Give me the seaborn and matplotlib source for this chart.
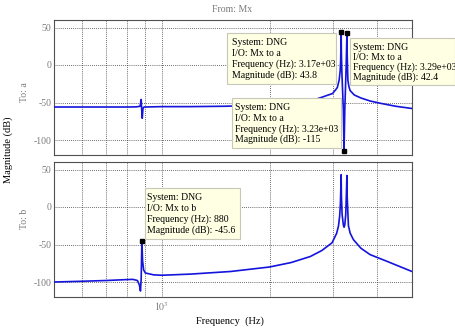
import numpy as np
import pandas as pd
import matplotlib
matplotlib.use("Agg")
import matplotlib.pyplot as plt
import seaborn as sns
from matplotlib.patches import Rectangle
from matplotlib.ticker import FixedLocator, NullFormatter, FixedFormatter

# ---- data ----
freq_a = [500, 600, 700, 800, 850, 870, 876, 879, 882, 886, 892, 900, 1000, 1200,
          1500, 1800, 2000, 2300, 2600, 2800, 3000, 3060, 3093, 3130, 3150, 3160,
          3166, 3170, 3175, 3185, 3200, 3215, 3230, 3245, 3260, 3272, 3282, 3290,
          3295, 3310, 3330, 3357, 3450, 3600, 3819, 4075, 4500, 5000]
mag_a = [-56, -56, -56, -56, -55.8, -55, -46, -60, -71, -58, -56, -56, -55.5, -55.5,
         -55, -54, -53, -51, -48, -43, -38, -33, -30, -20, -8, 5,
         25, 43.8, 15, -10, -35, -60, -115, -60, -30, -5, 20, 42.4,
         15, -20, -28, -34, -40, -44, -48, -51, -55, -58]

freq_b = [500, 600, 700, 780, 830, 855, 866, 872, 876, 880, 884, 890, 900, 950,
          1000, 1200, 1556, 2000, 2300, 2600, 2800, 2990, 3080, 3117, 3140, 3155,
          3165, 3170, 3175, 3190, 3215, 3230, 3245, 3265, 3280, 3290, 3295, 3305,
          3322, 3360, 3430, 3600, 3819, 4260, 4600, 5000]
mag_b = [-100, -99, -98, -97, -96.5, -98, -104, -112, -95, -45.6, -72, -84, -88, -90.5,
         -91, -89.5, -86, -80, -74, -66, -58, -47.7, -35, -25, -12, 5,
         28, 43, 15, -10, -24, -27, -24, -10, 20, 42, 15, 0,
         -25, -35, -43.5, -55, -63.5, -72.5, -79, -86]

tip_freq_a = [3170, 3290, 3230]
tip_mag_a = [43.8, 42.4, -115]
tip_freq_b = [880]
tip_mag_b = [-45.6]

tips_text = [
    ["System: DNG", "I/O: Mx to a", "Frequency (Hz): 3.17e+03", "Magnitude (dB): 43.8"],
    ["System: DNG", "I/O: Mx to a", "Frequency (Hz): 3.29e+03", "Magnitude (dB): 42.4"],
    ["System: DNG", "I/O: Mx to a", "Frequency (Hz): 3.23e+03", "Magnitude (dB): -115"],
    ["System: DNG", "I/O: Mx to b", "Frequency (Hz): 880", "Magnitude (dB): -45.6"],
]

y_ticks = [-100, -50, 0, 50]
x_minor = [600, 700, 800, 900, 2000, 3000, 4000]

# ---- style ----
sns.set_style("white")
plt.rcParams['font.family'] = ['Liberation Serif', 'DejaVu Serif']
plt.rcParams['mathtext.fontset'] = 'stix'
plt.rcParams['axes.unicode_minus'] = False

W, H = 456, 328
fig = plt.figure(figsize=(W / 100, H / 100), dpi=100)

def fx(px):
    return px / W

def fy(py):
    return 1 - py / H

ax1 = fig.add_axes([fx(54), fy(155), fx(412) - fx(54), fy(20) - fy(155)])
ax2 = fig.add_axes([fx(54), fy(297), fx(412) - fx(54), fy(162) - fy(297)])

line_color = '#1414dc'
tick_color = '#7a7a7a'
grid_kw = dict(color='#3c3c3c', linestyle=(0, (1, 1.5)), linewidth=0.6)

df_a = pd.DataFrame({'freq': freq_a, 'mag': mag_a})
df_b = pd.DataFrame({'freq': freq_b, 'mag': mag_b})

sns.lineplot(data=df_a, x='freq', y='mag', ax=ax1, color=line_color, linewidth=1.2,
             estimator=None, zorder=3)
sns.lineplot(data=df_b, x='freq', y='mag', ax=ax2, color=line_color, linewidth=1.2,
             estimator=None, zorder=3)

ax1.plot(tip_freq_a, tip_mag_a, 's', color='black', markersize=3.5, zorder=5, clip_on=False)
ax2.plot(tip_freq_b, tip_mag_b, 's', color='black', markersize=3.5, zorder=5, clip_on=False)

for ax in (ax1, ax2):
    ax.set_xscale('log')
    ax.set_xlim(500, 5000)
    ax.set_ylim(-120, 60)
    ax.set_yticks(y_ticks)
    ax.set_yticklabels([str(v) for v in y_ticks])
    ax.xaxis.set_major_locator(FixedLocator([1000]))
    ax.xaxis.set_minor_locator(FixedLocator(x_minor))
    ax.xaxis.set_minor_formatter(NullFormatter())
    ax.grid(True, which='both', axis='x', **grid_kw)
    ax.grid(True, which='major', axis='y', **grid_kw)
    ax.set_xlabel('')
    ax.set_ylabel('')
    ax.tick_params(axis='both', which='both', direction='in', length=3,
                   colors='#505050', labelcolor=tick_color, labelsize=7, width=0.6, pad=2)
    for s in ax.spines.values():
        s.set_color('#505050')
        s.set_linewidth(0.8)
        s.set_visible(True)
    ax.set_axisbelow(True)

ax1.xaxis.set_major_formatter(NullFormatter())
ax2.xaxis.set_major_formatter(FixedFormatter(['$10^3$']))

# labels
fig.text(fx(232), fy(9.5), 'From: Mx', ha='center', va='center', fontsize=7, color=tick_color)
fig.text(fx(25), fy(92), 'To: a', ha='center', va='center', rotation=90, fontsize=7, color=tick_color)
fig.text(fx(25), fy(219), 'To: b', ha='center', va='center', rotation=90, fontsize=7, color=tick_color)
fig.text(fx(8), fy(150), 'Magnitude (dB)', ha='center', va='center', rotation=90, fontsize=7.5, color='black')
fig.text(fx(230), fy(321), 'Frequency  (Hz)', ha='center', va='center', fontsize=7.5, color='black')

# datatip boxes: (left, top, right, bottom) in pixels, text left
boxes = [
    (227, 33, 336, 84, 232),
    (350, 38, 455, 85, 353),
    (232, 98, 341, 148, 235),
    (145, 188, 240, 239, 147),
]
for (l, t, r, b, tl), lines in zip(boxes, tips_text):
    rect = Rectangle((fx(l), fy(b)), fx(r) - fx(l), fy(t) - fy(b), transform=fig.transFigure,
                     facecolor='#ffffe3', edgecolor='#c8c8b8', linewidth=0.8, zorder=10)
    fig.add_artist(rect)
    step = (b - t - 7) / 4.0
    for i, s in enumerate(lines):
        fig.text(fx(tl), fy(t + 4 + step * (i + 0.5)), s, ha='left', va='center', fontsize=7,
                 color='black', zorder=11)

fig.savefig('out.png', dpi=100, facecolor='white')
